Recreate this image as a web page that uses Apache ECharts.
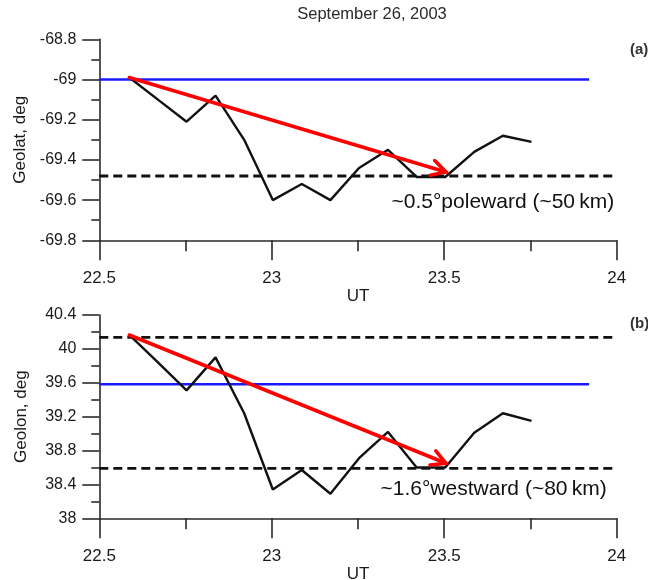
<!DOCTYPE html>
<html>
<head>
<meta charset="utf-8">
<script src="https://cdn.jsdelivr.net/npm/echarts@6/dist/echarts.min.js"></script>
<style>html,body{margin:0;padding:0;background:#fff;}#c{width:648px;height:580px;}</style>
</head>
<body>
<div id="c"></div>
<script>
// ---- data ----
const utTimes = [22.587, 22.670, 22.753, 22.837, 22.920, 23.003, 23.087, 23.170, 23.253, 23.337, 23.420, 23.503, 23.587, 23.670, 23.753];
const geolat  = [-68.99, -69.10, -69.21, -69.08, -69.30, -69.60, -69.52, -69.60, -69.44, -69.35, -69.485, -69.485, -69.36, -69.28, -69.31];
const geolon  = [40.164, 39.84, 39.51, 39.90, 39.24, 38.34, 38.57, 38.29, 38.71, 39.02, 38.60, 38.60, 39.01, 39.24, 39.15];

// reference lines: [xStart, xEnd, value]
const latBlue   = [22.5, 23.92, -69.0];
const latDashed = [22.5, 23.99, -69.48];
const lonBlue   = [22.5, 23.92, 39.582];
const lonDashedHi = [22.5, 23.99, 40.137];
const lonDashedLo = [22.5, 23.99, 38.59];

// arrows: [x1, y1, x2, y2]
const latArrow = [22.587, -68.99, 23.505, -69.46];
const lonArrow = [22.587, 40.164, 23.505, 38.65];

const title = 'September 26, 2003';
const latName = 'Geolat, deg';
const lonName = 'Geolon, deg';
const xName = 'UT';
const latNote = '~0.5°poleward (~50\u2009km)';
const lonNote = '~1.6°westward (~80\u2009km)';
const panelA = '(a)';
const panelB = '(b)';

// ---- chart ----
const FONT = '"Liberation Sans", Arial, sans-serif';
const TXT = '#1a1a1a';
const AX = '#2a2a2a';
const chart = echarts.init(document.getElementById('c'), null, {renderer: 'canvas'});

function xAxisCfg(gi) {
  return {
    type: 'value', gridIndex: gi, min: 22.5, max: 24, interval: 0.5,
    name: xName, nameLocation: 'middle', nameGap: 46,
    nameTextStyle: {fontFamily: FONT, fontSize: 17, color: TXT},
    axisLine: {show: true, onZero: false, lineStyle: {color: AX, width: 1.6}},
    axisTick: {show: true, length: 20, lineStyle: {color: AX, width: 1.6}},
    minorTick: {show: true, splitNumber: 2, length: 11, lineStyle: {color: AX, width: 1.6}},
    axisLabel: {fontFamily: FONT, fontSize: 17, color: TXT, margin: 30},
    splitLine: {show: false}, minorSplitLine: {show: false}
  };
}
function yAxisCfg(gi, min, max, interval, name) {
  return {
    type: 'value', gridIndex: gi, min: min, max: max, interval: interval,
    name: name, nameLocation: 'middle', nameGap: 69, nameRotate: 90,
    nameTextStyle: {fontFamily: FONT, fontSize: 17, color: TXT},
    axisLine: {show: true, onZero: false, lineStyle: {color: AX, width: 1.6}},
    axisTick: {show: true, length: 17, lineStyle: {color: AX, width: 1.6}},
    minorTick: {show: true, splitNumber: 2, length: 8, lineStyle: {color: AX, width: 1.6}},
    axisLabel: {fontFamily: FONT, fontSize: 16, color: TXT, margin: 23},
    splitLine: {show: false}, minorSplitLine: {show: false}
  };
}
function refLine(gi, seg, color, dashed) {
  return {
    type: 'line', xAxisIndex: gi, yAxisIndex: gi, symbol: 'none', silent: true,
    data: [[seg[0], seg[2]], [seg[1], seg[2]]],
    lineStyle: {color: color, width: dashed ? 2.8 : 2.4, type: dashed ? [9, 5] : 'solid'},
    z: 2
  };
}
function arrowSeries(gi, a) {
  return {
    type: 'custom', xAxisIndex: gi, yAxisIndex: gi, silent: true, z: 10,
    data: [a],
    encode: {x: [0, 2], y: [1, 3]},
    renderItem: function (params, api) {
      const p1 = api.coord([api.value(0), api.value(1)]);
      const p2 = api.coord([api.value(2), api.value(3)]);
      const ang = Math.atan2(p2[1] - p1[1], p2[0] - p1[0]);
      const L = 16, spread = 0.5;
      const w1 = [p2[0] - L * Math.cos(ang - spread), p2[1] - L * Math.sin(ang - spread)];
      const w2 = [p2[0] - L * Math.cos(ang + spread), p2[1] - L * Math.sin(ang + spread)];
      const st = {stroke: '#ff0000', lineWidth: 3.6, fill: null, lineCap: 'round', lineJoin: 'miter'};
      return {
        type: 'group',
        children: [
          {type: 'polyline', shape: {points: [p1, p2]}, style: st},
          {type: 'polyline', shape: {points: [w1, p2, w2]}, style: st}
        ]
      };
    }
  };
}
function dataLine(gi, ys) {
  return {
    type: 'line', xAxisIndex: gi, yAxisIndex: gi, symbol: 'none', silent: true,
    data: utTimes.map((t, i) => [t, ys[i]]),
    lineStyle: {color: '#111', width: 2.4}, z: 5
  };
}

const option = {
  backgroundColor: '#fff',
  animation: false,
  grid: [
    {left: 99.3, top: 39.3, width: 517.4, height: 201, outerBoundsMode: 'none', containLabel: false},
    {left: 99.3, top: 315, width: 517.4, height: 203.3, outerBoundsMode: 'none', containLabel: false}
  ],
  xAxis: [xAxisCfg(0), xAxisCfg(1)],
  yAxis: [
    yAxisCfg(0, -69.8, -68.8, 0.2, latName),
    yAxisCfg(1, 38, 40.4, 0.4, lonName)
  ],
  series: [
    refLine(0, latBlue, '#1a1aff', false),
    refLine(0, latDashed, '#111', true),
    dataLine(0, geolat),
    arrowSeries(0, latArrow),
    refLine(1, lonDashedHi, '#111', true),
    refLine(1, lonBlue, '#1a1aff', false),
    refLine(1, lonDashedLo, '#111', true),
    dataLine(1, geolon),
    arrowSeries(1, lonArrow)
  ],
  graphic: [
    {type: 'text', x: 372, y: 14, style: {text: title, fontFamily: FONT, fontSize: 16.5, fill: '#2a2a2a', align: 'center', verticalAlign: 'middle'}},
    {type: 'text', x: 630, y: 50, style: {text: panelA, fontFamily: FONT, fontSize: 15, fontWeight: 'bold', fill: '#333', align: 'left', verticalAlign: 'middle'}},
    {type: 'text', x: 630, y: 324, style: {text: panelB, fontFamily: FONT, fontSize: 15, fontWeight: 'bold', fill: '#333', align: 'left', verticalAlign: 'middle'}},
    {type: 'text', x: 391.5, y: 202, style: {text: latNote, fontFamily: FONT, fontSize: 21, fill: '#111', align: 'left', verticalAlign: 'middle'}},
    {type: 'text', x: 380.5, y: 489.5, style: {text: lonNote, fontFamily: FONT, fontSize: 21, fill: '#111', align: 'left', verticalAlign: 'middle'}}
  ]
};
chart.setOption(option);
</script>
</body>
</html>
